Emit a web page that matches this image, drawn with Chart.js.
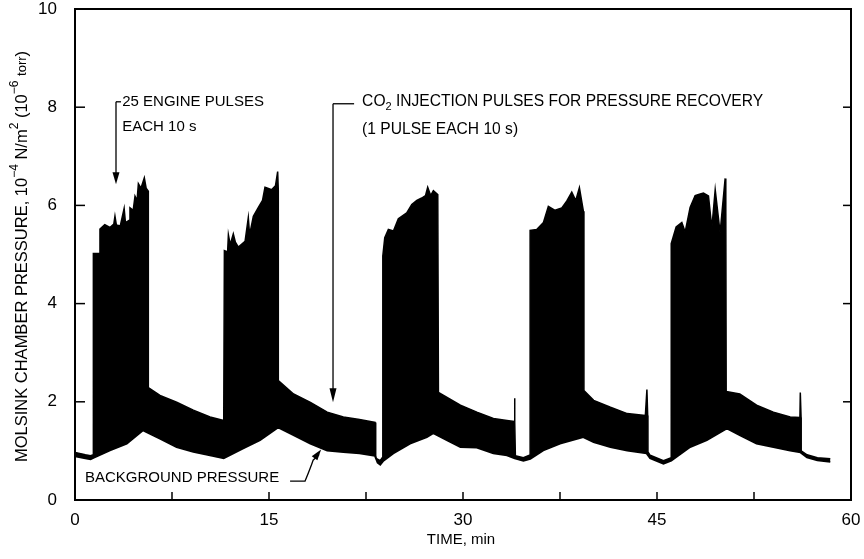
<!DOCTYPE html>
<html>
<head>
<meta charset="utf-8">
<script src="https://cdn.jsdelivr.net/npm/chart.js@4"></script>
<style>
  html, body { margin: 0; padding: 0; background: #fff; }
</style>
</head>
<body>
<canvas id="chart" width="864" height="559"></canvas>
<script>
// Molsink chamber pressure trace - top and bottom envelope of the recorder trace
// time in min, pressure in 10^-4 N/m^2

const upperTime = [
  0, 0.8, 1.2, 1.42,
  1.42, 1.9, 1.93, 2.3, 2.7, 3.0, 3.09, 3.2, 3.5, 3.8, 3.9, 4.2, 4.25, 4.5, 4.64, 4.8, 4.9, 5.1, 5.36, 5.5, 5.67,
  5.67, 6.57, 7.86, 9.15, 10.44, 11.5,
  11.55, 11.8, 11.86, 12.0, 12.24, 12.4, 12.63, 13.15, 13.4, 13.5, 13.79, 14.18, 14.5, 14.69, 14.9, 15.2, 15.5, 15.67, 15.72,
  15.72, 16.9, 18.2, 19.5, 20.75, 22.0, 23.2, 23.25, 23.6, 23.8,
  23.8, 23.95, 24.23, 24.62, 25.0, 25.65, 26.04, 26.43, 26.81, 27.1, 27.27, 27.5, 27.71, 28.05,
  28.1, 29.8, 31.07, 32.35, 33.4, 33.95, 33.98, 34.02, 34.05, 34.67, 35.19,
  35.19, 35.7, 36.22, 36.6, 37.12, 37.64, 38.03, 38.41, 38.72, 39.0, 39.31,
  39.35, 40.1, 41.4, 42.7, 44.1, 44.22, 44.28, 44.3, 44.47, 45.5, 46.1,
  46.1, 46.48, 46.92, 47.18, 47.56, 47.95, 48.28, 48.59, 48.98, 49.24, 49.5, 49.88, 50.04, 50.27, 50.32,
  50.35, 51.4, 52.7, 54.0, 55.3, 56.05, 56.08, 56.14, 56.15, 56.6, 57.4, 58.4
];
const upperPressure = [
  0.97, 0.92, 0.9, 0.92,
  5.02, 5.02, 5.52, 5.61, 5.55, 5.62, 5.78, 5.6, 5.58, 5.94, 5.65, 5.7, 5.95, 5.9, 6.19, 6.1, 6.44, 6.35, 6.56, 6.35, 6.29,
  2.29, 2.13, 1.99, 1.83, 1.69, 1.62,
  5.08, 5.05, 5.40, 5.2, 5.42, 5.25, 5.15, 5.27, 5.75, 5.4, 5.78, 5.96, 6.1, 6.37, 6.35, 6.32, 6.4, 6.69, 6.3,
  2.43, 2.16, 1.99, 1.79, 1.69, 1.64, 1.58, 0.85, 0.8, 0.88,
  4.97, 5.34, 5.51, 5.48, 5.73, 5.85, 6.02, 6.10, 6.15, 6.2, 6.37, 6.2, 6.30, 6.22,
  2.19, 1.93, 1.79, 1.66, 1.62, 1.6, 2.07, 1.58, 0.9, 0.86, 0.92,
  5.49, 5.51, 5.65, 5.98, 5.90, 5.95, 6.09, 6.27, 6.10, 6.36, 5.88,
  2.23, 2.03, 1.89, 1.76, 1.72, 2.25, 1.72, 0.98, 0.91, 0.8, 0.86,
  5.22, 5.56, 5.65, 5.46, 5.96, 6.20, 6.23, 6.25, 6.19, 5.54, 6.32, 5.44, 5.90, 6.55, 5.9,
  2.21, 2.16, 1.93, 1.79, 1.69, 1.68, 2.19, 1.68, 1.0, 0.92, 0.86, 0.84
];

const lowerTime = [
  0, 0.8, 1.2, 1.42, 2.7, 4.0, 5.26, 6.57, 7.86, 9.15, 10.44, 11.5,
  13.0, 14.3, 15.7, 16.9, 18.2, 19.5, 20.75, 22.0, 23.2, 23.4, 23.6, 23.85,
  24.6, 25.9, 27.2, 27.7, 28.75, 29.8, 31.07, 32.35, 33.4, 34.0, 34.67, 35.2,
  36.2, 37.5, 39.3, 40.1, 41.4, 42.7, 44.2, 44.47, 45.5, 46.1,
  47.56, 48.85, 50.4, 51.4, 52.7, 54.0, 55.3, 56.1, 56.6, 57.4, 58.4
];
const lowerPressure = [
  0.89, 0.85, 0.83, 0.86, 1.01, 1.15, 1.42, 1.25, 1.08, 0.98, 0.91, 0.85,
  1.05, 1.22, 1.48, 1.32, 1.15, 1.01, 0.98, 0.95, 0.9, 0.76, 0.72, 0.8,
  0.95, 1.15, 1.28, 1.36, 1.22, 1.08, 1.07, 0.95, 0.91, 0.85, 0.8, 0.84,
  1.01, 1.15, 1.28, 1.18, 1.08, 1.01, 0.95, 0.85, 0.74, 0.8,
  1.08, 1.22, 1.46, 1.32, 1.15, 1.08, 1.01, 0.97, 0.87, 0.81, 0.78
];

const xTickValues = [0, 7.5, 15, 22.5, 30, 37.5, 45, 52.5, 60];
const xTickLabels = ['0', '', '15', '', '30', '', '45', '', '60'];
const yTickValues = [0, 2, 4, 6, 8, 10];

const TICK_FONT = "'Liberation Sans', 'DejaVu Sans', sans-serif";
const TEXT_FONT = "'Liberation Sans', 'DejaVu Sans', sans-serif";

function toPoints(ts, ps) {
  return ts.map((t, i) => ({ x: t, y: ps[i] }));
}

function line(ctx, x1, y1, x2, y2) {
  ctx.beginPath();
  ctx.moveTo(x1, y1);
  ctx.lineTo(x2, y2);
  ctx.stroke();
}

function arrowHead(ctx, tx, ty, fx, fy, len, half) {
  const ang = Math.atan2(ty - fy, tx - fx);
  ctx.beginPath();
  ctx.moveTo(tx, ty);
  ctx.lineTo(tx - len * Math.cos(ang) + half * Math.sin(ang), ty - len * Math.sin(ang) - half * Math.cos(ang));
  ctx.lineTo(tx - len * Math.cos(ang) - half * Math.sin(ang), ty - len * Math.sin(ang) + half * Math.cos(ang));
  ctx.closePath();
  ctx.fill();
}

// draws pieces of text with own size / vertical offset, left aligned
function drawRich(ctx, parts, x, y) {
  let cx = x;
  parts.forEach(p => {
    ctx.font = `${p.size}px ${TEXT_FONT}`;
    ctx.fillText(p.text, cx, y + (p.dy || 0));
    cx += ctx.measureText(p.text).width;
  });
  return cx - x;
}
function richWidth(ctx, parts) {
  let w = 0;
  parts.forEach(p => {
    ctx.font = `${p.size}px ${TEXT_FONT}`;
    w += ctx.measureText(p.text).width;
  });
  return w;
}

const yTitleParts = [
  { text: 'MOLSINK CHAMBER PRESSURE, 10', size: 16.5 },
  { text: '−4', size: 12, dy: -7 },
  { text: ' N/m', size: 16.5 },
  { text: '2', size: 12, dy: -7 },
  { text: ' (10', size: 16.5 },
  { text: '−6', size: 12, dy: -7 },
  { text: ' ', size: 16.5 },
  { text: 'torr', size: 13 },
  { text: ')', size: 16.5 }
];

const paperPlugin = {
  id: 'paper',
  afterDraw(chart) {
    const { ctx, chartArea: a, scales: { x, y } } = chart;
    ctx.save();
    ctx.strokeStyle = '#000';
    ctx.fillStyle = '#000';

    // frame
    ctx.lineWidth = 2;
    ctx.strokeRect(a.left, a.top, a.right - a.left, a.bottom - a.top);

    // inward tick marks
    ctx.lineWidth = 1.5;
    yTickValues.forEach(v => {
      const py = y.getPixelForValue(v);
      line(ctx, a.left, py, a.left + 10, py);
      line(ctx, a.right, py, a.right - 8, py);
    });
    xTickValues.forEach(v => {
      const px = x.getPixelForValue(v);
      line(ctx, px, a.bottom, px, a.bottom - 8);
    });

    // axis titles
    ctx.textBaseline = 'middle';
    ctx.textAlign = 'center';
    ctx.font = `15px ${TEXT_FONT}`;
    ctx.fillText('TIME, min', (a.left + a.right) / 2 - 2, 540);

    ctx.save();
    ctx.translate(22, (a.top + a.bottom) / 2 + 2);
    ctx.rotate(-Math.PI / 2);
    ctx.textAlign = 'left';
    const w = richWidth(ctx, yTitleParts);
    drawRich(ctx, yTitleParts, -w / 2, 0);
    ctx.restore();

    // annotation: engine pulses
    ctx.textAlign = 'left';
    ctx.lineWidth = 1.3;
    let cx = x.getPixelForValue(3.17), cy = y.getPixelForValue(8.11);
    let tipY = y.getPixelForValue(6.43);
    line(ctx, cx, cy, x.getPixelForValue(3.56), cy);
    line(ctx, cx, cy, cx, tipY - 8);
    arrowHead(ctx, cx, tipY, cx, cy, 12, 3.5);
    ctx.font = `15px ${TEXT_FONT}`;
    ctx.fillText('25 ENGINE PULSES', x.getPixelForValue(3.65), y.getPixelForValue(8.11));
    ctx.fillText('EACH 10 s', x.getPixelForValue(3.65), y.getPixelForValue(7.59));

    // annotation: CO2 injection
    cx = x.getPixelForValue(19.95); cy = y.getPixelForValue(8.07);
    tipY = y.getPixelForValue(1.99);
    line(ctx, cx, cy, x.getPixelForValue(21.58), cy);
    line(ctx, cx, cy, cx, tipY - 8);
    arrowHead(ctx, cx, tipY, cx, cy, 14, 3.5);
    drawRich(ctx, [
      { text: 'CO', size: 15.6 },
      { text: '2', size: 11, dy: 5 },
      { text: ' INJECTION PULSES FOR PRESSURE RECOVERY', size: 15.6 }
    ], x.getPixelForValue(22.2), y.getPixelForValue(8.11));
    ctx.font = `15.6px ${TEXT_FONT}`;
    ctx.fillText('(1 PULSE EACH 10 s)', x.getPixelForValue(22.2), y.getPixelForValue(7.55));

    // annotation: background pressure
    ctx.font = `15px ${TEXT_FONT}`;
    ctx.fillText('BACKGROUND PRESSURE', x.getPixelForValue(0.77), y.getPixelForValue(0.45));
    const p1 = [x.getPixelForValue(16.63), y.getPixelForValue(0.385)];
    const p2 = [x.getPixelForValue(17.79), y.getPixelForValue(0.385)];
    const p3 = [x.getPixelForValue(18.41), y.getPixelForValue(0.81)];
    const tip = [x.getPixelForValue(19.03), y.getPixelForValue(1.03)];
    ctx.beginPath();
    ctx.moveTo(p1[0], p1[1]);
    ctx.lineTo(p2[0], p2[1]);
    ctx.quadraticCurveTo(p3[0] - 2, p3[1] + 6, p3[0], p3[1]);
    ctx.lineTo(tip[0] - 2, tip[1] + 5);
    ctx.stroke();
    arrowHead(ctx, tip[0], tip[1], p3[0], p3[1], 11, 3.5);

    ctx.restore();
  }
};

new Chart(document.getElementById('chart'), {
  type: 'line',
  data: {
    datasets: [
      {
        label: 'upper',
        data: toPoints(upperTime, upperPressure),
        borderColor: '#000',
        backgroundColor: '#000',
        borderWidth: 1.5,
        pointRadius: 0,
        tension: 0,
        fill: '+1'
      },
      {
        label: 'lower',
        data: toPoints(lowerTime, lowerPressure),
        borderColor: '#000',
        borderWidth: 2,
        pointRadius: 0,
        tension: 0,
        fill: false
      }
    ]
  },
  options: {
    responsive: false,
    animation: false,
    layout: { padding: { top: 9, right: 13, left: 0, bottom: 0 } },
    plugins: {
      legend: { display: false },
      tooltip: { enabled: false }
    },
    scales: {
      x: {
        type: 'linear',
        min: 0,
        max: 60,
        afterBuildTicks: s => { s.ticks = xTickValues.map(v => ({ value: v })); },
        afterFit: s => { s.height = 59; s.paddingLeft = 0; s.paddingRight = 0; },
        grid: { display: false },
        border: { display: false },
        ticks: {
          autoSkip: false,
          maxRotation: 0,
          padding: 2,
          color: '#000',
          font: { family: TICK_FONT, size: 17 },
          callback: v => xTickLabels[xTickValues.indexOf(v)]
        }
      },
      y: {
        min: 0,
        max: 10,
        afterBuildTicks: s => { s.ticks = yTickValues.map(v => ({ value: v })); },
        afterFit: s => { s.width = 75; s.paddingTop = 0; s.paddingBottom = 0; },
        grid: { display: false },
        border: { display: false },
        ticks: {
          padding: 10,
          color: '#000',
          font: { family: TICK_FONT, size: 17 }
        }
      }
    }
  },
  plugins: [paperPlugin]
});
</script>
</body>
</html>
